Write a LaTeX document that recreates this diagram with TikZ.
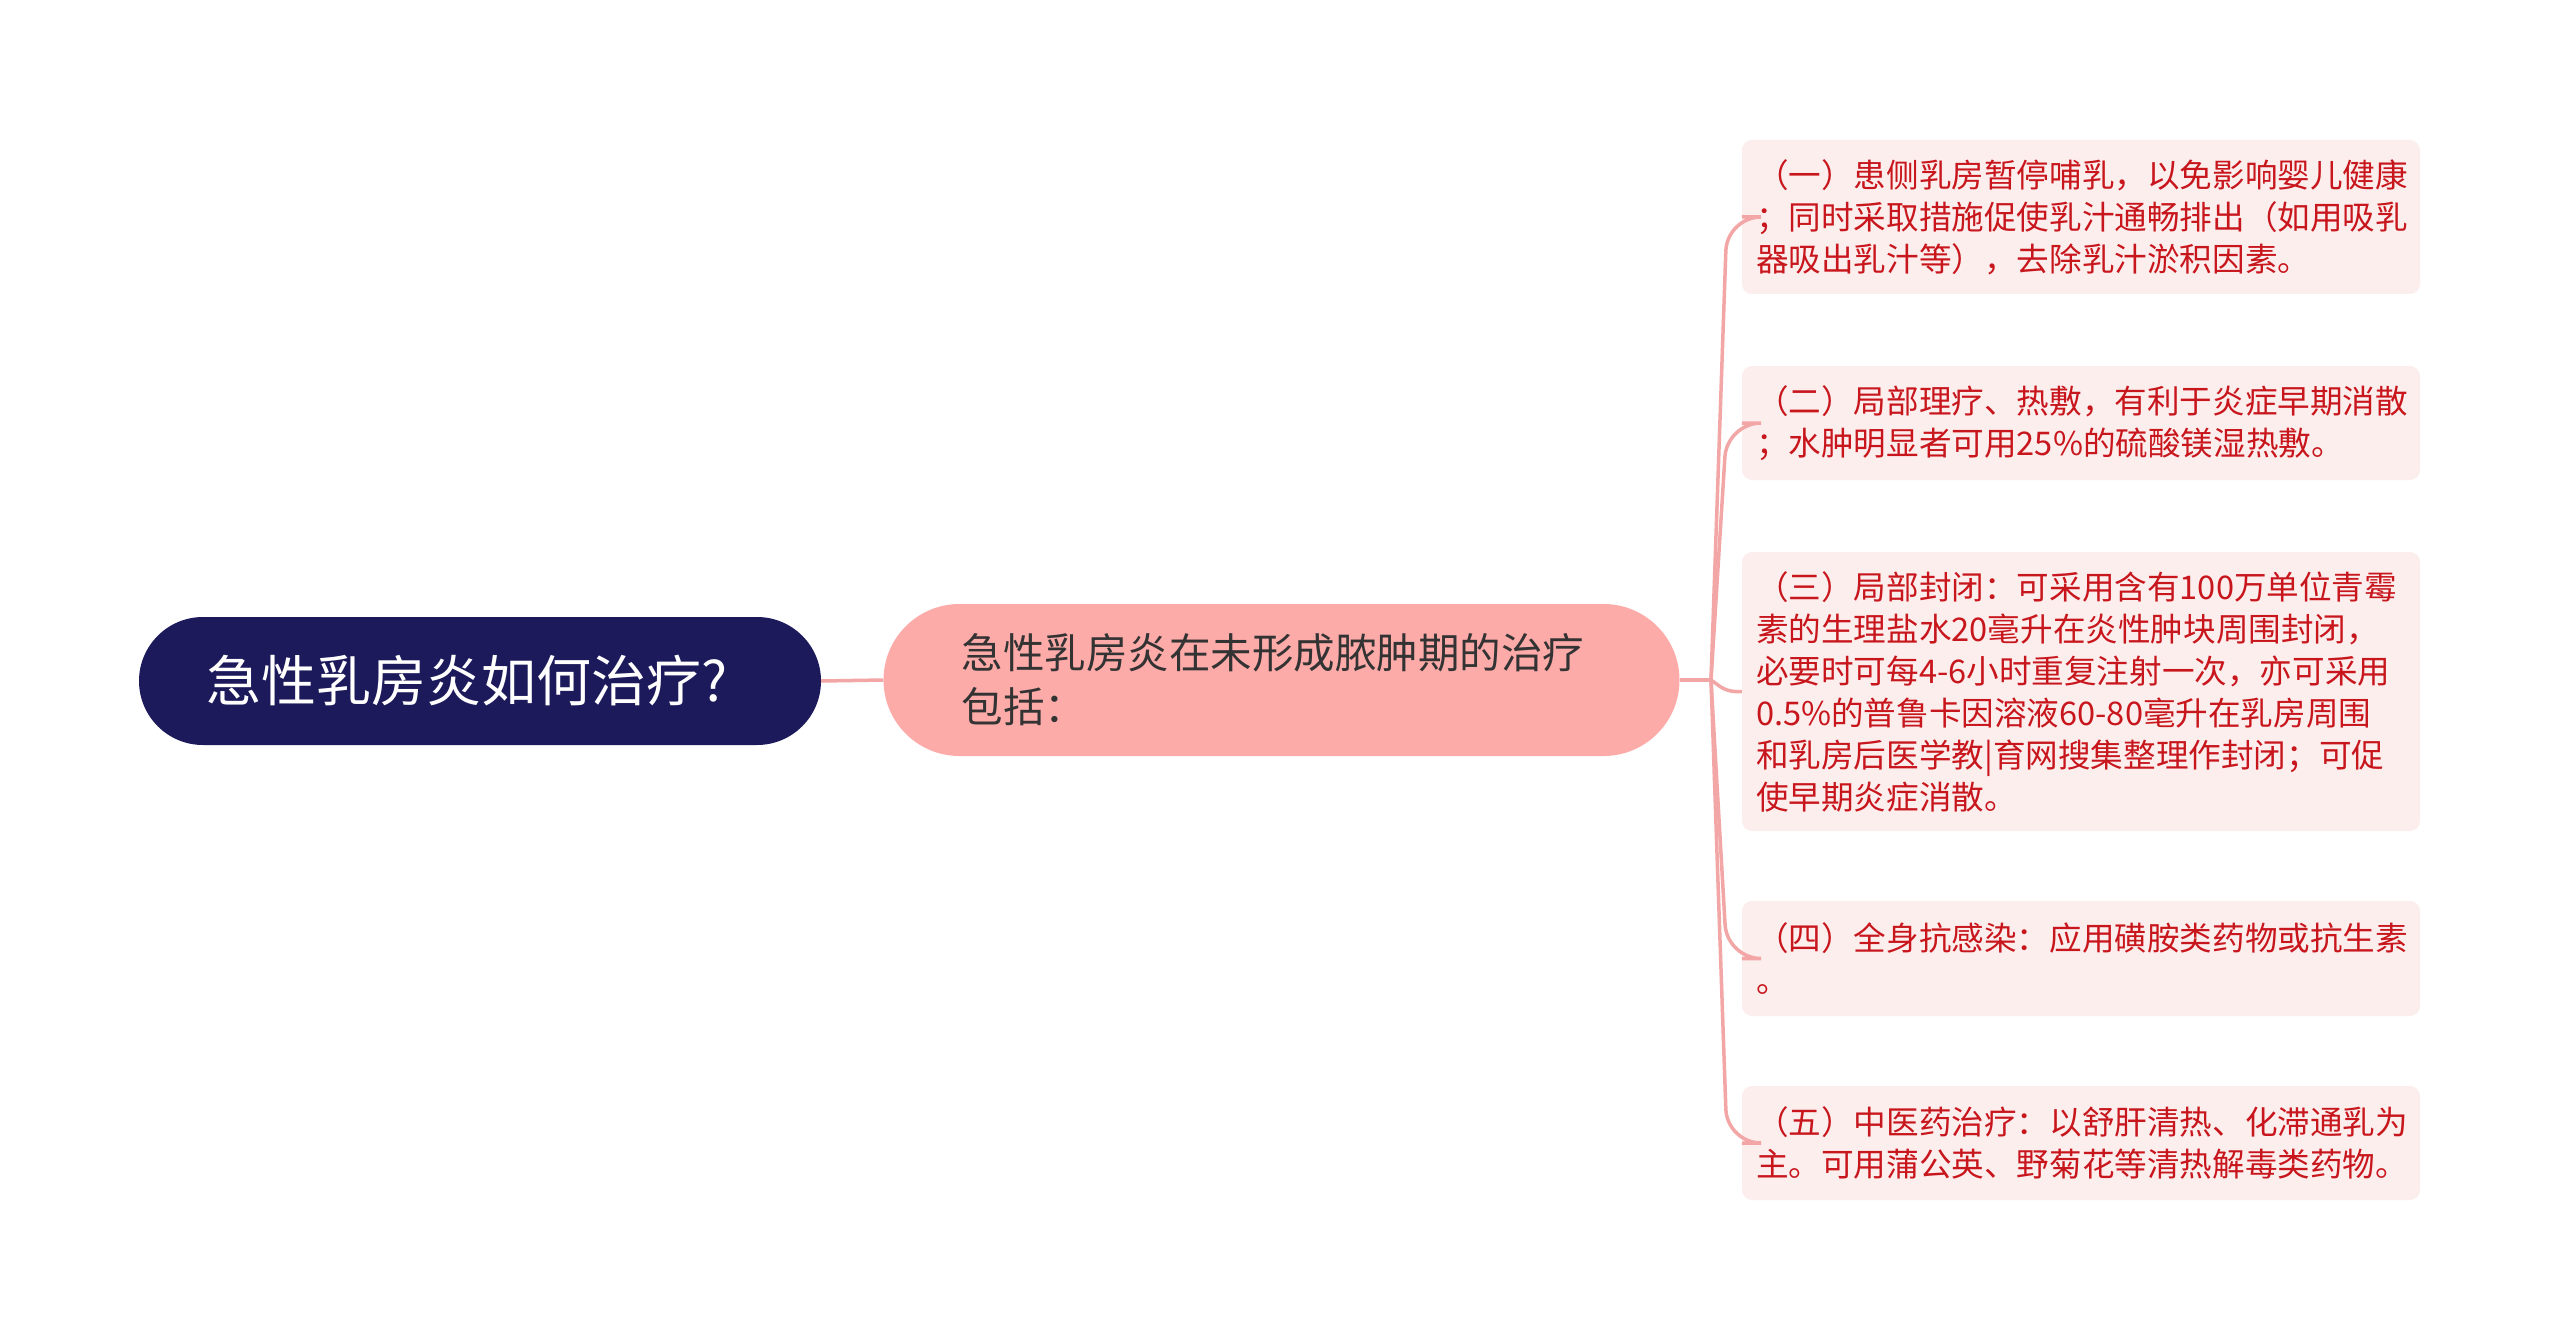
\documentclass[tikz,border=0pt]{standalone}
\usepackage{fontspec}
\setmainfont{Noto Sans CJK SC}
\definecolor{rootfill}{HTML}{1C1A5B}
\definecolor{midfill}{HTML}{FDABA9}
\definecolor{leaffill}{HTML}{FDEEEE}
\definecolor{leaftext}{HTML}{C8161D}
\definecolor{midtext}{HTML}{333333}
\definecolor{connc}{HTML}{F2A7A6}
\begin{document}
\begin{tikzpicture}[x=1pt,y=-1pt,
  rootbox/.style={fill=rootfill, text=white, rounded corners=64pt, minimum width=682pt, minimum height=128pt, inner sep=0pt, font=\fontsize{55}{62}\selectfont},
  midbox/.style={fill=midfill, text=midtext, rounded corners=76pt, minimum height=152pt, text width=640pt, inner xsep=78pt, inner ysep=0pt, align=left, font=\fontsize{41.5}{54}\selectfont},
  leafbox/.style={fill=leaffill, text=leaftext, rounded corners=10pt, text width=650pt, inner xsep=14pt, inner ysep=0pt, align=left, font=\fontsize{32.6}{42}\selectfont},
  conn/.style={draw=connc, line width=3.5pt}]
\useasboundingbox (0,0) rectangle (2560,1340);
\fill[white] (0,0) rectangle (2560,1340);

\node[rootbox] (root) at (480,681) {急性乳房炎如何治疗?\hspace*{26pt}};
\node[midbox] (mid) at (1281.5,680) {急性乳房炎在未形成脓肿期的治疗\\包括：};

\node[leafbox, minimum height=154pt] (l1) at (2081,217) {（一）患侧乳房暂停哺乳，以免影响婴儿健康\\；同时采取措施促使乳汁通畅排出（如用吸乳\\器吸出乳汁等），去除乳汁淤积因素。};
\node[leafbox, minimum height=114pt] (l2) at (2081,423) {（二）局部理疗、热敷，有利于炎症早期消散\\；水肿明显者可用25\%的硫酸镁湿热敷。};
\node[leafbox, minimum height=279pt] (l3) at (2081,691.5) {（三）局部封闭：可采用含有100万单位青霉\\素的生理盐水20毫升在炎性肿块周围封闭，\\必要时可每4-6小时重复注射一次，亦可采用\\0.5\%的普鲁卡因溶液60-80毫升在乳房周围\\和乳房后医学教|育网搜集整理作封闭；可促\\使早期炎症消散。};
\node[leafbox, minimum height=115pt] (l4) at (2081,958.5) {（四）全身抗感染：应用磺胺类药物或抗生素\\。};
\node[leafbox, minimum height=114pt] (l5) at (2081,1143) {（五）中医药治疗：以舒肝清热、化滞通乳为\\主。可用蒲公英、野菊花等清热解毒类药物。};

\coordinate (J) at (1711,680);
\coordinate (bx) at (1727,0);

\draw[conn] (root.east) -- (mid.west);
\draw[conn] (mid.east) -- (J);
\draw[conn, rounded corners=34pt] (J) -- (bx |- l1.west) -- (l1.west);
\draw[conn, rounded corners=34pt] (J) -- (bx |- l2.west) -- (l2.west);
\draw[conn, rounded corners=8pt] (J) -- (bx |- l3.west) -- (l3.west);
\draw[conn, rounded corners=34pt] (J) -- (bx |- l4.west) -- (l4.west);
\draw[conn, rounded corners=34pt] (J) -- (bx |- l5.west) -- (l5.west);
\end{tikzpicture}
\end{document}
